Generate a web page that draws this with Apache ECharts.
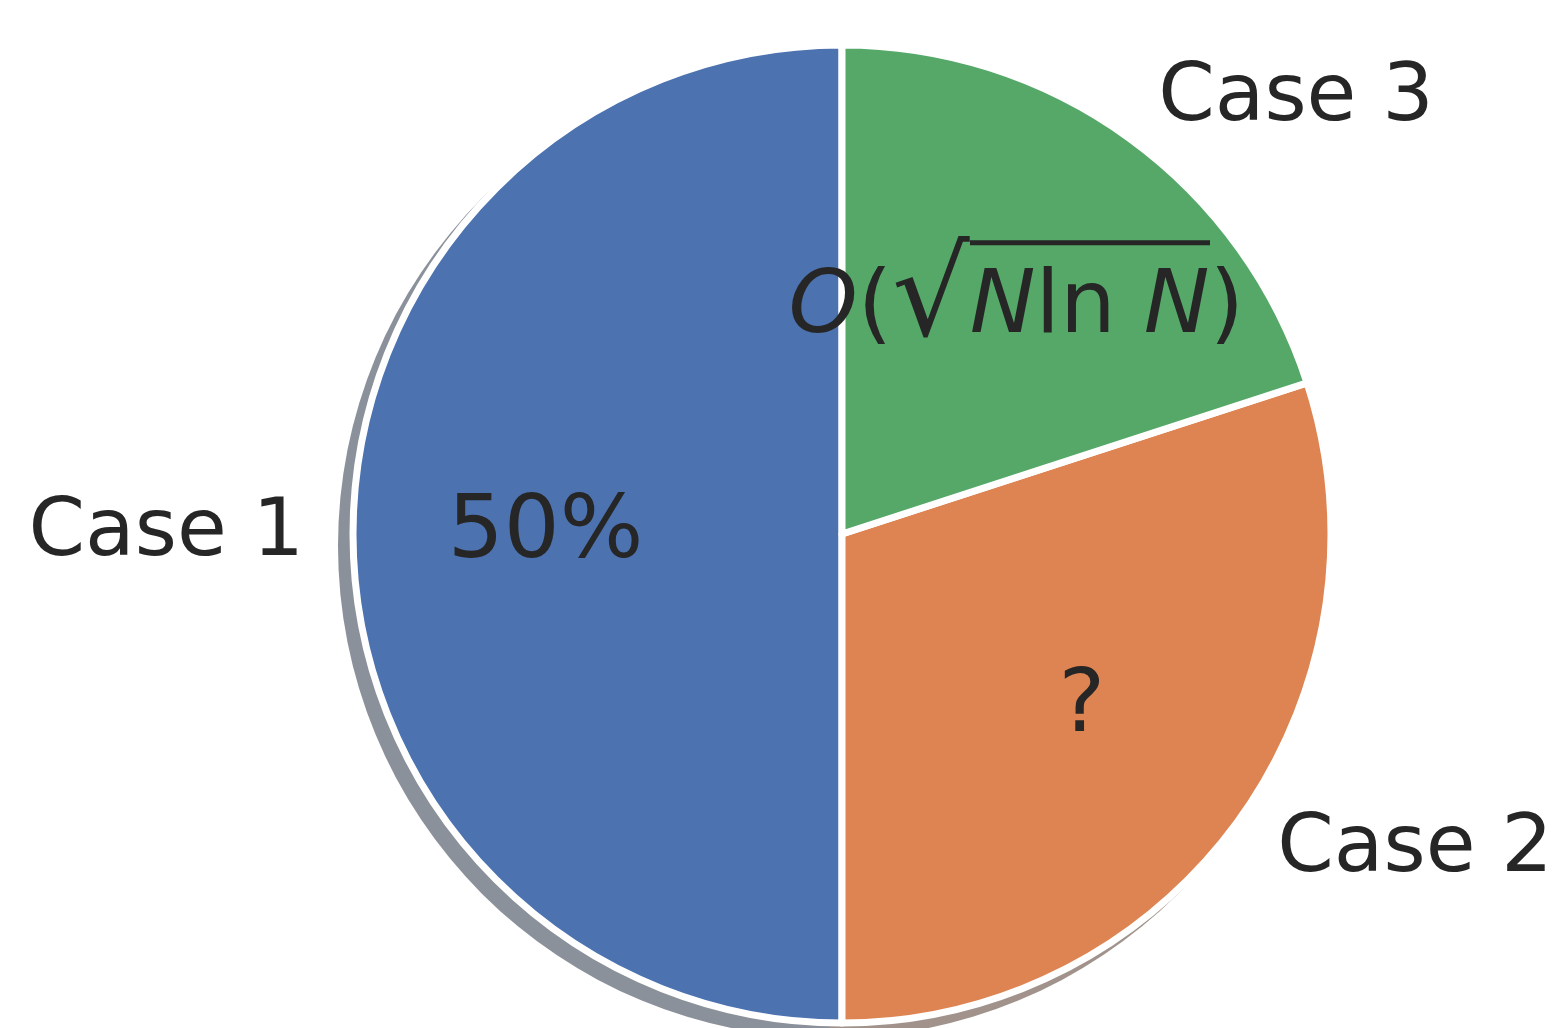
<!DOCTYPE html>
<html>
<head>
<meta charset="utf-8">
<script src="https://cdn.jsdelivr.net/npm/echarts@6/dist/echarts.min.js"></script>
<style>
html,body{margin:0;padding:0;background:#ffffff;}
#chart{width:1560px;height:1028px;}
</style>
</head>
<body>
<div id="chart"></div>
<script>
// ---- data ----
const categories = ['Case 1', 'Case 2', 'Case 3'];
const shares = [50, 30, 20];
const innerLabels = ['50%', '?', 'O(\u221AN ln N)'];

// ---- style ----
const faceColors = ['#4c72b0', '#dd8452', '#55a868'];
const shadowColors = ['#8b919a', '#a1938c', '#8c998f'];
const textColor = '#262626';
const FONT = 'DejaVu Sans';
const CX = 842, CY = 534, R = 489;

// overline image for the square-root bar
const OVH = 144;
const ov = document.createElement('canvas');
ov.width = 8; ov.height = OVH;
const octx = ov.getContext('2d');
octx.fillStyle = textColor;
octx.fillRect(0, 3, 8, 5);

const mathRich = '{o|O}{p|(}{r|\u221A}{n|N}{l|ln }{n|N}{p|)}';

const chart = echarts.init(document.getElementById('chart'), null, {renderer: 'canvas'});
const pieData = categories.map((c, i) => ({name: c, value: shares[i]}));

chart.setOption({
  backgroundColor: '#ffffff',
  animation: false,
  series: [
    { // shadow
      type: 'pie', silent: true, z: 1,
      center: [CX - 12, CY + 12], radius: R + 3,
      startAngle: 90, clockwise: false,
      avoidLabelOverlap: false,
      label: {show: false}, labelLine: {show: false},
      itemStyle: {color: p => shadowColors[p.dataIndex], borderWidth: 0},
      data: pieData
    },
    { // main pie with outer labels
      type: 'pie', silent: true, z: 2,
      center: [CX, CY], radius: R,
      startAngle: 90, clockwise: false,
      avoidLabelOverlap: false,
      itemStyle: {color: p => faceColors[p.dataIndex], borderColor: '#ffffff', borderWidth: 7},
      label: {
        show: true, position: 'outside', distanceToLabelLine: 0,
        formatter: p => p.name,
        fontFamily: FONT, fontSize: 81, color: textColor
      },
      labelLine: {show: false, length: 49, length2: 0},
      data: pieData
    },
    { // inner labels at 0.6 R
      type: 'pie', silent: true, z: 3,
      center: [CX, CY], radius: R * 1.2,
      startAngle: 90, clockwise: false,
      avoidLabelOverlap: false,
      itemStyle: {color: 'rgba(0,0,0,0)', borderWidth: 0},
      label: {
        show: true, position: 'inside',
        formatter: p => p.dataIndex === 2 ? mathRich : innerLabels[p.dataIndex],
        fontFamily: FONT, fontSize: 88, color: textColor,
        rich: {
          o: {fontFamily: FONT, fontSize: 88, fontStyle: 'italic', color: textColor},
          p: {fontFamily: FONT, fontSize: 88, color: textColor},
          r: {fontFamily: FONT, fontSize: 122, color: textColor, padding: [0, 0, 12, 0]},
          n: {fontFamily: FONT, fontSize: 88, fontStyle: 'italic', color: textColor, height: OVH, backgroundColor: {image: ov}},
          l: {fontFamily: FONT, fontSize: 88, color: textColor, height: OVH, backgroundColor: {image: ov}}
        }
      },
      labelLine: {show: false},
      data: pieData.map((d, i) => i === 2 ? Object.assign({}, d, {label: {offset: [0, 15]}}) : d)
    }
  ]
});
</script>
</body>
</html>
